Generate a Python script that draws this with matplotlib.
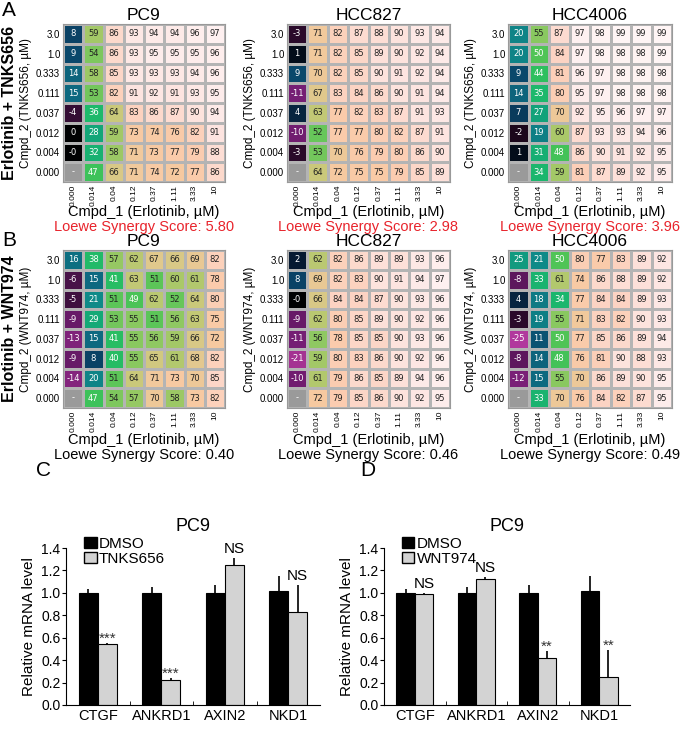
import numpy as np
import matplotlib
matplotlib.use('Agg')
from matplotlib import pyplot as plt
from matplotlib.colors import LinearSegmentedColormap
from matplotlib.patches import Patch

plt.rcParams['font.family'] = ['Liberation Sans', 'DejaVu Sans']

W, H = 683, 737
nan = np.nan

# dose labels
row_labels = ['3.0', '1.0', '0.333', '0.111', '0.037', '0.012', '0.004', '0.000']
col_labels = ['0.000', '0.014', '0.04', '0.12', '0.37', '1.11', '3.33', '10']
cell_lines = ['PC9', 'HCC827', 'HCC4006']

# panel A: Erlotinib + TNKS656 (% inhibition)
a_pc9 = [[8, 59, 86, 93, 94, 94, 96, 97],
         [9, 54, 86, 93, 95, 95, 95, 96],
         [14, 58, 85, 93, 93, 93, 94, 96],
         [15, 53, 82, 91, 92, 91, 93, 95],
         [-4, 36, 64, 83, 86, 87, 90, 94],
         [0, 28, 59, 73, 74, 76, 82, 91],
         [-0.0, 32, 58, 71, 73, 77, 79, 88],
         [nan, 47, 66, 71, 74, 72, 77, 86]]
a_hcc827 = [[-3, 71, 82, 87, 88, 90, 93, 94],
            [1, 71, 82, 85, 89, 90, 92, 94],
            [9, 70, 82, 85, 90, 91, 92, 94],
            [-11, 67, 83, 84, 86, 90, 91, 94],
            [4, 63, 77, 82, 83, 87, 91, 93],
            [-10, 52, 77, 77, 80, 82, 87, 91],
            [-3, 53, 70, 76, 79, 80, 86, 90],
            [nan, 64, 72, 75, 75, 79, 85, 89]]
a_hcc4006 = [[20, 55, 87, 97, 98, 99, 99, 99],
             [20, 50, 84, 97, 98, 98, 98, 99],
             [9, 44, 81, 96, 97, 98, 98, 98],
             [14, 35, 80, 95, 97, 98, 98, 98],
             [7, 27, 70, 92, 95, 96, 97, 97],
             [-2, 19, 60, 87, 93, 93, 94, 96],
             [1, 31, 48, 86, 90, 91, 92, 95],
             [nan, 34, 59, 81, 87, 89, 92, 95]]
a_scores = ['5.80', '2.98', '3.96']

# panel B: Erlotinib + WNT974
b_pc9 = [[16, 38, 57, 62, 67, 66, 69, 82],
         [-6, 15, 41, 63, 51, 60, 61, 78],
         [-5, 21, 51, 49, 62, 52, 64, 80],
         [-9, 29, 53, 55, 51, 56, 63, 75],
         [-13, 15, 41, 55, 56, 59, 66, 72],
         [-9, 8, 40, 55, 65, 61, 68, 82],
         [-14, 20, 51, 64, 71, 73, 70, 85],
         [nan, 47, 54, 57, 70, 58, 73, 82]]
b_hcc827 = [[2, 62, 82, 86, 89, 89, 93, 96],
            [8, 69, 82, 83, 90, 91, 94, 97],
            [-0.0, 66, 84, 84, 87, 90, 93, 96],
            [-9, 62, 80, 85, 89, 90, 92, 96],
            [-11, 56, 78, 85, 85, 90, 93, 96],
            [-21, 59, 80, 83, 86, 90, 92, 96],
            [-10, 61, 79, 86, 85, 89, 94, 96],
            [nan, 72, 79, 85, 86, 90, 92, 95]]
b_hcc4006 = [[25, 21, 50, 80, 77, 83, 89, 92],
             [-8, 33, 61, 74, 86, 88, 89, 92],
             [4, 18, 34, 77, 84, 84, 89, 93],
             [-3, 19, 55, 71, 83, 82, 90, 93],
             [-25, 11, 50, 77, 85, 86, 89, 94],
             [-8, 14, 48, 76, 81, 90, 88, 93],
             [-12, 15, 55, 70, 86, 89, 90, 95],
             [nan, 33, 70, 76, 84, 82, 87, 95]]
b_scores = ['0.40', '0.46', '0.49']

# panels C/D: qPCR
genes = ['CTGF', 'ANKRD1', 'AXIN2', 'NKD1']
c_dmso = [1.0, 1.0, 1.0, 1.02]
c_dmso_err = [0.03, 0.05, 0.07, 0.13]
c_tnks = [0.54, 0.22, 1.25, 0.83]
c_tnks_err = [0.01, 0.02, 0.06, 0.24]
c_marks = ['***', '***', 'NS', 'NS']
d_dmso = [1.0, 1.0, 1.0, 1.02]
d_dmso_err = [0.03, 0.05, 0.07, 0.13]
d_wnt = [0.99, 1.12, 0.42, 0.25]
d_wnt_err = [0.01, 0.02, 0.06, 0.24]
d_marks = ['NS', 'NS', '**', '**']

# colour map roughly matching the synergy heatmaps
anchors = [(-30, '#c040a8'), (-20, '#a0308f'), (-10, '#701c70'), (-3, '#2a0a2a'),
           (0, '#000000'), (2, '#061830'), (8, '#0a4468'), (15, '#0d6a80'),
           (21, '#0f8a88'), (28, '#13a678'), (35, '#1cb86c'), (45, '#30c05c'),
           (50, '#50c456'), (55, '#88c860'), (60, '#a8c868'), (64, '#c8c878'),
           (68, '#e4c890'), (72, '#f6c9a0'), (78, '#fbcbac'), (84, '#fcd3c2'),
           (90, '#fde2dc'), (95, '#fdebea'), (100, '#fff6f6')]
vmin, vmax = -30, 100
cmap = LinearSegmentedColormap.from_list(
    'syn', [((v - vmin) / (vmax - vmin), c) for v, c in anchors])
cmap.set_bad('#9a9a9a')


def px_axes(fig, left, top, right, bottom):
    return fig.add_axes([left / W, 1 - bottom / H, (right - left) / W, (bottom - top) / H])


def draw_heatmap(ax, data, title, drug):
    arr = np.array(data, dtype=float)
    ax.pcolormesh(np.ma.masked_invalid(arr), cmap=cmap, vmin=vmin, vmax=vmax,
                  edgecolors='#b4b4b4', linewidth=0.8)
    ax.set_xlim(0, 8)
    ax.set_ylim(8, 0)
    for i in range(8):
        for j in range(8):
            v = arr[i, j]
            if np.isnan(v):
                txt, col = '-', 'white'
            else:
                txt = format(v, '.0f')
                col = 'white' if v <= 50 else '#222222'
            ax.text(j + 0.5, i + 0.5, txt, ha='center', va='center',
                    fontsize=6, color=col, family='DejaVu Sans')
    ax.set_xticks(np.arange(8) + 0.5)
    ax.set_xticklabels(col_labels, rotation=90, fontsize=6)
    ax.set_yticks(np.arange(8) + 0.5)
    ax.set_yticklabels(row_labels, fontsize=7)
    ax.tick_params(length=0, pad=2)
    for s in ax.spines.values():
        s.set_color('#999999')
    ax.set_title(title, fontsize=12.5, pad=3)
    ax.set_ylabel('Cmpd_2 (%s, µM)' % drug, fontsize=8.5, labelpad=3)


def draw_bars(ax, dmso, dmso_err, trt, trt_err, marks, trt_name):
    x = np.arange(len(genes))
    w = 0.3
    ax.bar(x - w / 2, dmso, w, color='black', edgecolor='black', linewidth=0.8,
           yerr=[np.zeros(4), dmso_err], error_kw=dict(ecolor='black', elinewidth=1.2, capsize=0))
    ax.bar(x + w / 2, trt, w, color='#d3d3d3', edgecolor='black', linewidth=0.8,
           yerr=[np.zeros(4), trt_err], error_kw=dict(ecolor='black', elinewidth=1.2, capsize=0))
    for i, m in enumerate(marks):
        top = trt[i] + trt_err[i]
        if m == 'NS':
            ax.text(x[i] + w / 2, top + 0.015, m, ha='center', va='bottom', fontsize=11)
        else:
            ax.text(x[i] + w / 2, top - 0.02, m, ha='center', va='bottom', fontsize=11,
                    color='#333333')
    ax.set_xlim(-0.5, 3.5)
    ax.set_ylim(0, 1.4)
    ax.set_yticks(np.arange(0, 1.41, 0.2))
    ax.set_yticklabels(['%.1f' % t for t in np.arange(0, 1.41, 0.2)], fontsize=10)
    ax.set_xticks(x)
    ax.set_xticklabels(genes, fontsize=10.5)
    ax.set_xticks([0.5, 1.5, 2.5], minor=True)
    ax.tick_params(axis='x', which='major', length=0, pad=3)
    ax.tick_params(axis='x', which='minor', length=3, direction='in')
    ax.tick_params(axis='y', length=3, pad=1)
    ax.spines['top'].set_visible(False)
    ax.spines['right'].set_visible(False)
    ax.set_title('PC9', fontsize=13, pad=12)
    ax.set_ylabel('Relative mRNA level', fontsize=11, labelpad=4)
    handles = [Patch(facecolor='black', edgecolor='black'),
               Patch(facecolor='#d3d3d3', edgecolor='black')]
    ax.legend(handles, ['DMSO', trt_name], loc='upper left', bbox_to_anchor=(0.03, 1.14),
              frameon=False, fontsize=11, handlelength=0.8, handleheight=0.8,
              handletextpad=0.15, labelspacing=0.05, borderpad=0.2)


def main():
    fig = plt.figure(figsize=(W / 100, H / 100), dpi=100)

    xs = [(63, 225), (287, 450), (508, 672)]

    # panel A
    for (l, r), name, data, score in zip(xs, cell_lines, [a_pc9, a_hcc827, a_hcc4006], a_scores):
        ax = px_axes(fig, l, 24, r, 182)
        draw_heatmap(ax, data, name, 'TNKS656')
        cx = (l + r) / 2 / W
        fig.text(cx, 1 - 212 / H, 'Cmpd_1 (Erlotinib, µM)', ha='center', va='center', fontsize=10.5)
        fig.text(cx, 1 - 227 / H, 'Loewe Synergy Score: ' + score, ha='center', va='center',
                 fontsize=10.5, color='#e8232b')

    # panel B
    for (l, r), name, data, score in zip(xs, cell_lines, [b_pc9, b_hcc827, b_hcc4006], b_scores):
        ax = px_axes(fig, l, 250, r, 408)
        draw_heatmap(ax, data, name, 'WNT974')
        cx = (l + r) / 2 / W
        fig.text(cx, 1 - 440 / H, 'Cmpd_1 (Erlotinib, µM)', ha='center', va='center', fontsize=10.5)
        fig.text(cx, 1 - 455 / H, 'Loewe Synergy Score: ' + score, ha='center', va='center',
                 fontsize=10.5, color='black')

    fig.text(10 / W, 1 - 103 / H, 'Erlotinib + TNKS656', rotation=90, ha='center', va='center',
             fontsize=11.5, fontweight='bold')
    fig.text(10 / W, 1 - 329 / H, 'Erlotinib + WNT974', rotation=90, ha='center', va='center',
             fontsize=11.5, fontweight='bold')

    # panels C and D
    axc = px_axes(fig, 66, 548, 320, 705)
    draw_bars(axc, c_dmso, c_dmso_err, c_tnks, c_tnks_err, c_marks, 'TNKS656')
    axd = px_axes(fig, 384, 548, 630, 705)
    draw_bars(axd, d_dmso, d_dmso_err, d_wnt, d_wnt_err, d_marks, 'WNT974')

    # panel letters
    for lbl, x, y in [('A', 2, 11), ('B', 2, 240), ('C', 36, 471), ('D', 360, 471)]:
        fig.text(x / W, 1 - y / H, lbl, ha='left', va='center', fontsize=15)

    fig.savefig('out.png', dpi=100)


if __name__ == "__main__":
    main()
